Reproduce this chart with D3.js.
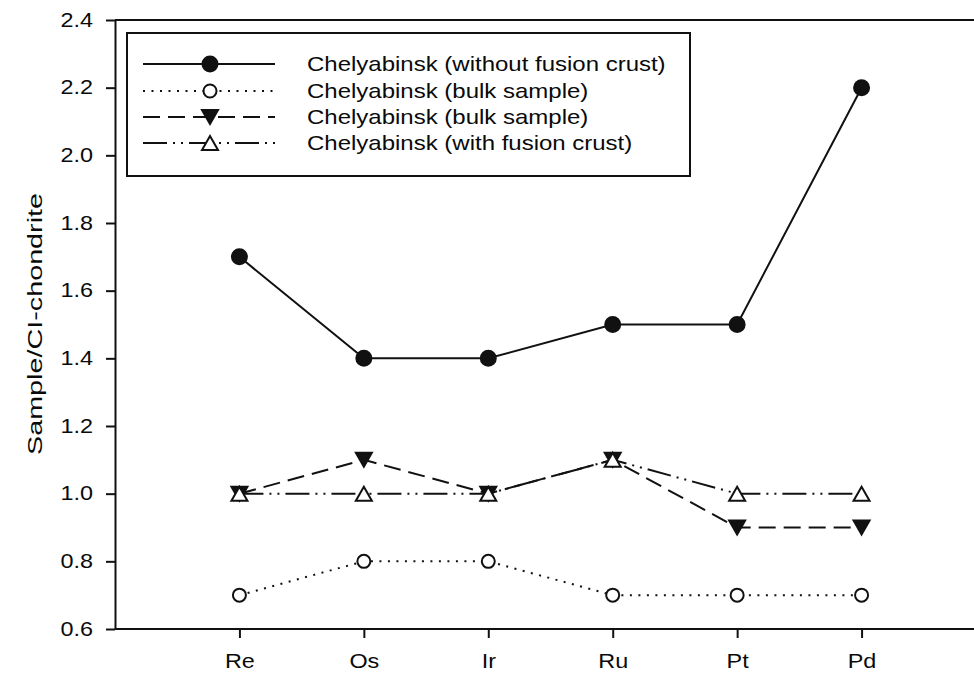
<!DOCTYPE html>
<html>
<head>
<meta charset="utf-8">
<script src="https://cdn.jsdelivr.net/npm/d3@7/dist/d3.min.js"></script>
<style>
  html, body { margin: 0; padding: 0; background: #fff; }
  svg { display: block; }
  text { font-family: "Liberation Sans", Arial, sans-serif; fill: #0a0a0a; }
</style>
</head>
<body>
<svg id="chart" width="974" height="675"></svg>
<script>
// Platinum-group element abundances normalised to CI chondrite
const elements = ["Re", "Os", "Ir", "Ru", "Pt", "Pd"];
const withoutCrust = [1.7, 1.4, 1.4, 1.5, 1.5, 2.2];
const bulkOpen = [0.7, 0.8, 0.8, 0.7, 0.7, 0.7];
const bulkFilled = [1.0, 1.1, 1.0, 1.1, 0.9, 0.9];
const withCrust = [1.0, 1.0, 1.0, 1.1, 1.0, 1.0];
const seriesNames = [
  "Chelyabinsk (without fusion crust)",
  "Chelyabinsk (bulk sample)",
  "Chelyabinsk (bulk sample)",
  "Chelyabinsk (with fusion crust)"
];
const yTicks = [0.6, 0.8, 1.0, 1.2, 1.4, 1.6, 1.8, 2.0, 2.2, 2.4];
const yTitle = "Sample/CI-chondrite";

const SX = 1.2;       // horizontal stretch applied to the lettering
const FS = 19.5;      // tick label size in px

const svg = d3.select("#chart");
const plotL = 115, plotR = 986, plotT = 20, plotB = 629;

const x = d3.scalePoint().domain(elements).range([plotL, plotR]).padding(1);
const y = d3.scaleLinear().domain([0.6, 2.4]).range([plotB, plotT]);

// top border of the plot area
svg.append("line")
  .attr("x1", plotL).attr("x2", plotR).attr("y1", plotT).attr("y2", plotT)
  .attr("stroke", "#111").attr("stroke-width", 2);

// left axis
const gy = svg.append("g").attr("transform", `translate(${plotL},0)`)
  .call(d3.axisLeft(y).tickValues(yTicks).tickFormat(d3.format(".1f"))
    .tickSize(9).tickSizeOuter(0).tickPadding(13));
gy.select(".domain").attr("stroke", "#111").attr("stroke-width", 2);
gy.selectAll(".tick line").attr("stroke", "#111").attr("stroke-width", 2);
gy.selectAll(".tick text")
  .attr("font-size", FS).attr("font-family", null).attr("fill", "#0a0a0a")
  .attr("x", -22 / SX).attr("transform", `scale(${SX},1)`);

// bottom axis
const gx = svg.append("g").attr("transform", `translate(0,${plotB})`)
  .call(d3.axisBottom(x).tickSize(9).tickSizeOuter(0).tickPadding(16));
gx.select(".domain")
  .attr("d", `M${plotL},0H${plotR}`)
  .attr("stroke", "#111").attr("stroke-width", 2);
gx.selectAll(".tick line").attr("stroke", "#111").attr("stroke-width", 2);
gx.selectAll(".tick text")
  .attr("font-size", FS).attr("font-family", null).attr("fill", "#0a0a0a")
  .attr("transform", `scale(${SX},1)`);

// y-axis title
svg.append("text")
  .attr("transform", `translate(42,324) rotate(-90) scale(1.37,1)`)
  .attr("text-anchor", "middle")
  .attr("font-size", 21)
  .text(yTitle);

// series styles
const styles = [
  { values: withoutCrust, dash: null, marker: "circle", fill: "#111" },
  { values: bulkOpen, dash: "2,6.5", marker: "circle", fill: "#fff" },
  { values: bulkFilled, dash: "17,8", marker: "down", fill: "#111" },
  { values: withCrust, dash: "24,6,2,6,2,6", marker: "up", fill: "#fff" }
];

const line = d3.line().x((d, i) => x(elements[i])).y(d => y(d));

function drawMarker(g, type, cx, cy, fill) {
  if (type === "circle") {
    g.append("circle").attr("cx", cx).attr("cy", cy)
      .attr("r", fill === "#fff" ? 6.5 : 7.5)
      .attr("fill", fill).attr("stroke", "#111").attr("stroke-width", 2);
  } else {
    const s = 8, h = 7;
    const pts = type === "down"
      ? [[cx - s, cy - h], [cx + s, cy - h], [cx, cy + h]]
      : [[cx - s, cy + h], [cx + s, cy + h], [cx, cy - h]];
    g.append("path").attr("d", "M" + pts.join("L") + "Z")
      .attr("fill", fill).attr("stroke", "#111").attr("stroke-width", 2)
      .attr("stroke-linejoin", "miter");
  }
}

styles.forEach(s => {
  svg.append("path").datum(s.values)
    .attr("d", line).attr("fill", "none")
    .attr("stroke", "#111").attr("stroke-width", 2)
    .attr("stroke-dasharray", s.dash);
});
// markers drawn after all lines so they sit on top
styles.forEach(s => {
  const g = svg.append("g");
  s.values.forEach((v, i) => drawMarker(g, s.marker, x(elements[i]), y(v), s.fill));
});

// legend
const lg = svg.append("g");
lg.append("rect").attr("x", 127).attr("y", 33).attr("width", 563).attr("height", 143)
  .attr("fill", "#fff").attr("stroke", "#111").attr("stroke-width", 2);
const rowY = [64, 91, 117, 143];
styles.forEach((s, i) => {
  lg.append("line").attr("x1", 143).attr("x2", 275).attr("y1", rowY[i]).attr("y2", rowY[i])
    .attr("stroke", "#111").attr("stroke-width", 2).attr("stroke-dasharray", s.dash);
  drawMarker(lg, s.marker, 210, rowY[i], s.fill);
  lg.append("text")
    .attr("transform", `translate(307,${rowY[i] + 7}) scale(${SX},1)`)
    .attr("font-size", 20)
    .text(seriesNames[i]);
});
</script>
</body>
</html>
